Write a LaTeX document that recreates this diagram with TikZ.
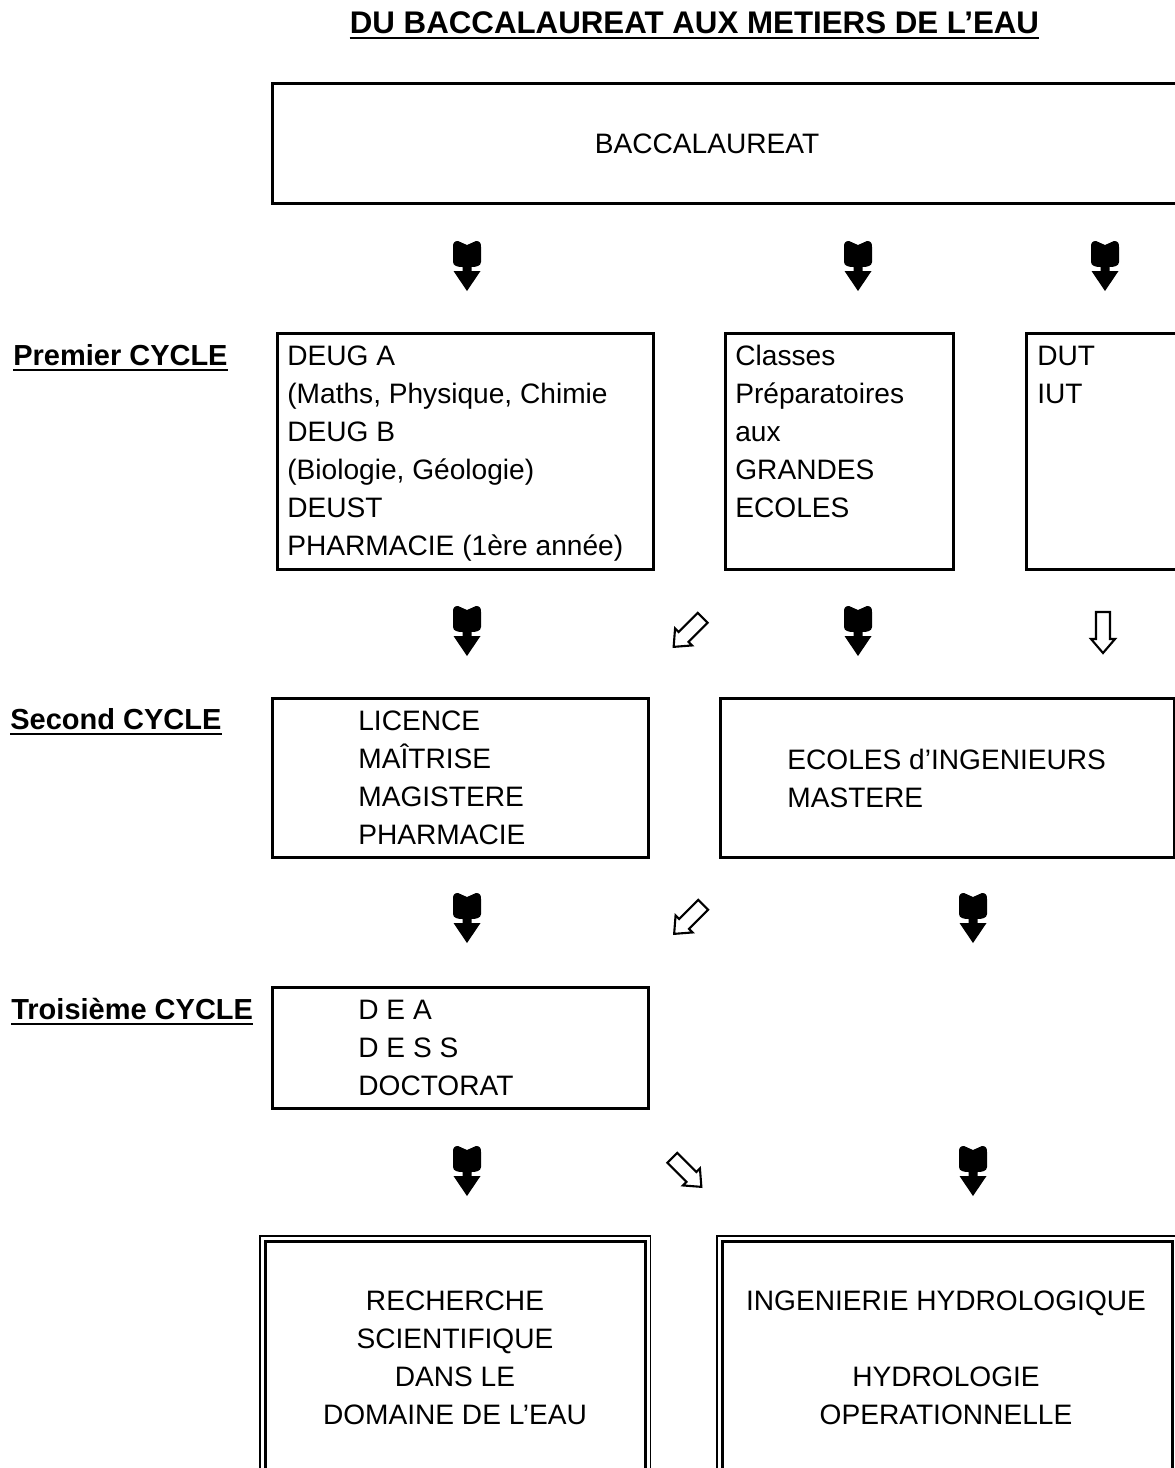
\documentclass[tikz,border=0pt]{standalone}
\usepackage{fontspec}
\setmainfont{Liberation Sans}
\tikzset{
  box/.style={draw=black, line width=1.6pt, inner sep=0pt, anchor=north west},
  txt/.style={inner sep=0pt, font=\fontsize{16}{21.6}\selectfont},
  titre/.style={inner sep=0pt, font=\bfseries\fontsize{17.8}{21}\selectfont},
  etage/.style={inner sep=0pt, anchor=base west, font=\bfseries\fontsize{16.5}{20}\selectfont},
  pleine/.pic={
    \fill[black] (0,-23) -- (9,-27) .. controls (13,-27) and (14,-25) .. (14,-21)
      -- (14,-6) .. controls (14,-2) and (9,-1) .. (4.5,-1) -- (4.5,3) -- (13.5,3)
      -- (0,23) -- (-13.5,3) -- (-4.5,3) -- (-4.5,-1)
      .. controls (-9,-1) and (-14,-2) .. (-14,-6) -- (-14,-21)
      .. controls (-14,-25) and (-13,-27) .. (-9,-27) -- cycle;
  },
  creuse/.pic={
    \filldraw[fill=white, draw=black, line width=1.2pt]
      (-7,-20) -- (7,-20) -- (7,7) -- (12,7) -- (0,21) -- (-12,7) -- (-7,7) -- cycle;
  }
}
\begin{document}
\begin{tikzpicture}[x=0.02cm, y=-0.02cm]
  \useasboundingbox (0,0) rectangle (1175,1468);
  \clip (0,0) rectangle (1175,1468);
  % titre
  \node[titre, anchor=base] (titre) at (694.5,33) {DU BACCALAUREAT AUX METIERS DE L’EAU};
  \draw[line width=1.2pt] ([yshift=-3pt]titre.base west) -- ([yshift=-3pt]titre.base east);
  % baccalaureat
  \node[box, minimum width=18.58cm, minimum height=2.4cm] (bac) at (271,82) {};
  \node[txt, anchor=base] (bactxt) at (707,153) {BACCALAUREAT};
  \foreach \x in {467,858,1105} \pic at (\x,268) {pleine};
  % premier cycle (texte place sur la ligne de base de la derniere ligne)
  \node[etage] (premier) at (13,365) {Premier CYCLE};
  \draw[line width=1.2pt] ([yshift=-3pt]premier.base west) -- ([yshift=-3pt]premier.base east);
  \node[box, minimum width=7.52cm, minimum height=4.72cm] (deug) at (276,332) {};
  \node[txt, align=left, anchor=base west] (deugtxt) at (287,555)
    {DEUG A\\(Maths, Physique, Chimie\\DEUG B\\(Biologie, Géologie)\\DEUST\\PHARMACIE (1ère année)};
  \node[box, minimum width=4.56cm, minimum height=4.72cm] (cpge) at (724,332) {};
  \node[txt, align=left, anchor=base west] (cpgetxt) at (735,517)
    {Classes\\Préparatoires\\aux\\GRANDES\\ECOLES};
  \node[box, minimum width=3.5cm, minimum height=4.72cm] (dut) at (1025,332) {};
  \node[txt, align=left, anchor=base west] (duttxt) at (1037,403) {DUT\\IUT};
  % passages vers le second cycle
  \pic at (467,633) {pleine};
  \pic[rotate=-45] at (688.5,632) {creuse};
  \pic at (858,633) {pleine};
  \pic at (1103,632) {creuse};
  % second cycle
  \node[etage] (second) at (10,729) {Second CYCLE};
  \draw[line width=1.2pt] ([yshift=-3pt]second.base west) -- ([yshift=-3pt]second.base east);
  \node[box, minimum width=7.52cm, minimum height=3.18cm] (lic) at (271,697) {};
  \node[txt, align=left, anchor=base west] (lictxt) at (358,844)
    {LICENCE\\MAÎTRISE\\MAGISTERE\\PHARMACIE};
  \node[box, minimum width=9.08cm, minimum height=3.18cm] (ing) at (719,697) {};
  \node[txt, align=left, anchor=base west] (ingtxt) at (787,807)
    {ECOLES d’INGENIEURS\\MASTERE};
  \pic at (467,920) {pleine};
  \pic[rotate=-45] at (689,919) {creuse};
  \pic at (973,920) {pleine};
  % troisieme cycle
  \node[etage] (troisieme) at (11,1019) {Troisième CYCLE};
  \draw[line width=1.2pt] ([yshift=-3pt]troisieme.base west) -- ([yshift=-3pt]troisieme.base east);
  \node[box, minimum width=7.52cm, minimum height=2.42cm] (dea) at (271,986) {};
  \node[txt, align=left, anchor=base west] (deatxt) at (358,1095)
    {D E A\\D E S S\\DOCTORAT};
  \pic at (467,1173) {pleine};
  \pic[rotate=45] at (686.5,1172) {creuse};
  \pic at (973,1173) {pleine};
  % metiers
  \node[box, minimum width=7.6cm, minimum height=5.2cm] (rech) at (264,1240) {};
  \draw[line width=0.6pt] ([shift={(-4,-4)}]rech.north west) rectangle ([shift={(4,4)}]rech.south east);
  \node[txt, align=center, anchor=base] (rechtxt) at (455,1424)
    {RECHERCHE\\SCIENTIFIQUE\\DANS LE\\DOMAINE DE L’EAU};
  \node[box, minimum width=9.0cm, minimum height=5.2cm] (hydro) at (721,1240) {};
  \draw[line width=0.6pt] ([shift={(-4,-4)}]hydro.north west) rectangle ([shift={(4,4)}]hydro.south east);
  \node[txt, align=center, anchor=base] (hydrotxt) at (946,1424)
    {INGENIERIE HYDROLOGIQUE\\[21.6pt]HYDROLOGIE\\OPERATIONNELLE};
\end{tikzpicture}
\end{document}
